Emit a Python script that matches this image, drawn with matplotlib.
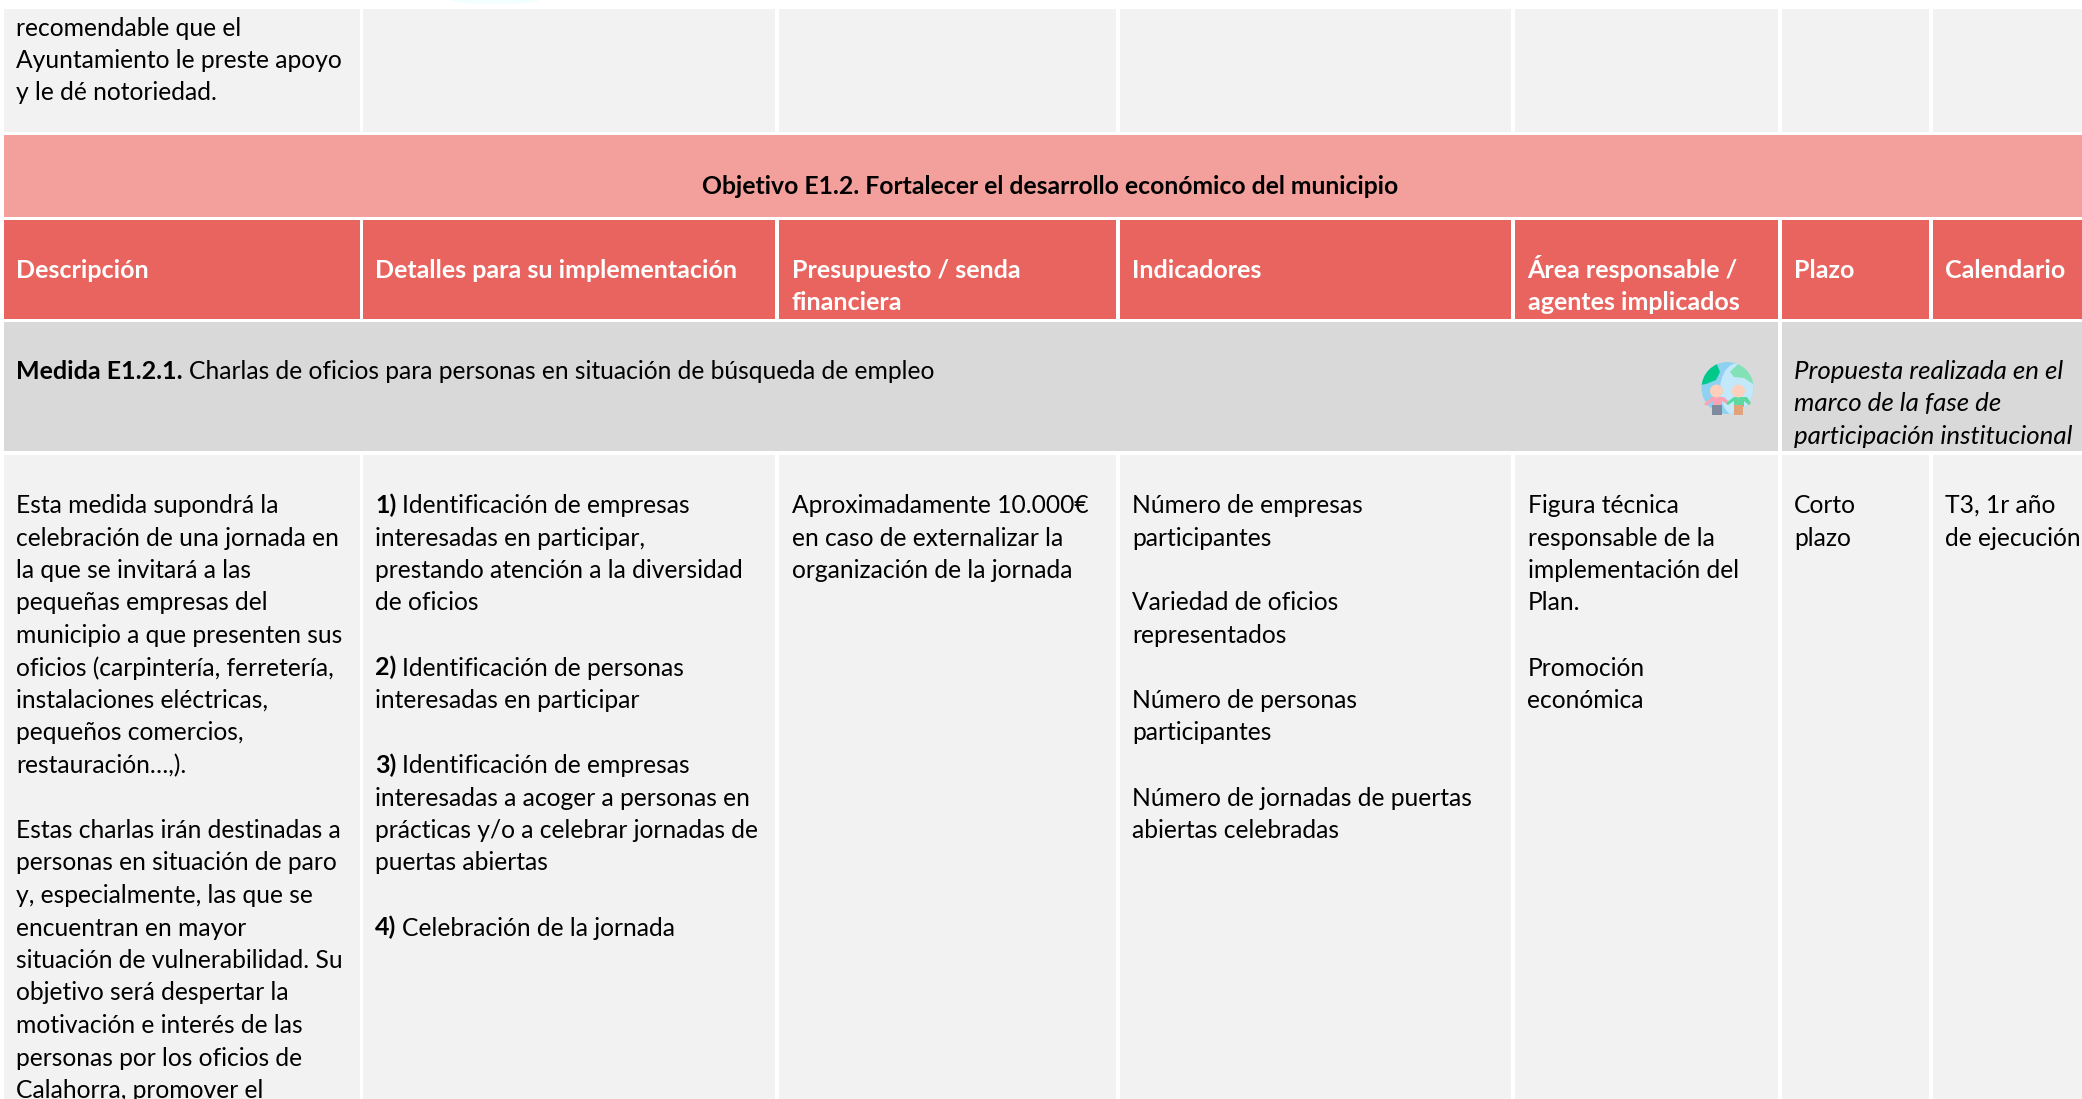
import matplotlib
matplotlib.use('Agg')
import matplotlib.pyplot as plt
from matplotlib.patches import Rectangle, Circle, Ellipse, Polygon

# column and row edges, in pixels of the page
col_left = [4, 362.5, 779, 1120, 1515, 1782, 1933]
col_right = [359.5, 775, 1116, 1511, 1778, 1929, 2082]
text_x = [16.5, 375, 791.5, 1132, 1527.5, 1794, 1945]

top_row = (9, 132)
obj_row = (135, 217)
head_row = (220, 319)
gray_row = (322, 451)
body_row = (455, 1099)

C_CELL = '#f2f2f2'
C_OBJ = '#f3a09c'
C_HEAD = '#e9645e'
C_GRAY = '#d9d9d9'

top_lines = ['recomendable que el', 'Ayuntamiento le preste apoyo', 'y le dé notoriedad.']
objetivo = 'Objetivo E1.2. Fortalecer el desarrollo económico del municipio'
headers = [
    ['Descripción'],
    ['Detalles para su implementación'],
    ['Presupuesto / senda', 'financiera'],
    ['Indicadores'],
    ['Área responsable /', 'agentes implicados'],
    ['Plazo'],
    ['Calendario'],
]
medida_bold = 'Medida E1.2.1.'
medida_text = 'Charlas de oficios para personas en situación de búsqueda de empleo'
propuesta = ['Propuesta realizada en el', 'marco de la fase de', 'participación institucional']

descripcion = [
    'Esta medida supondrá la', 'celebración de una jornada en', 'la que se invitará a las',
    'pequeñas empresas del', 'municipio a que presenten sus', 'oficios (carpintería, ferretería,',
    'instalaciones eléctricas,', 'pequeños comercios,', 'restauración…,).', '',
    'Estas charlas irán destinadas a', 'personas en situación de paro', 'y, especialmente, las que se',
    'encuentran en mayor', 'situación de vulnerabilidad. Su', 'objetivo será despertar la',
    'motivación e interés de las', 'personas por los oficios de', 'Calahorra, promover el',
]
detalles = [
    '1) Identificación de empresas', 'interesadas en participar,', 'prestando atención a la diversidad',
    'de oficios', '', '2) Identificación de personas', 'interesadas en participar', '',
    '3) Identificación de empresas', 'interesadas a acoger a personas en',
    'prácticas y/o a celebrar jornadas de', 'puertas abiertas', '', '4) Celebración de la jornada',
]
presupuesto = ['Aproximadamente 10.000€', 'en caso de externalizar la', 'organización de la jornada']
indicadores = [
    'Número de empresas', 'participantes', '', 'Variedad de oficios', 'representados', '',
    'Número de personas', 'participantes', '', 'Número de jornadas de puertas', 'abiertas celebradas',
]
area = [
    'Figura técnica', 'responsable de la', 'implementación del', 'Plan.', '',
    'Promoción', 'económica',
]
plazo = ['Corto', 'plazo']
calendario = ['T3, 1r año', 'de ejecución']
body_cols = [descripcion, detalles, presupuesto, indicadores, area, plazo, calendario]

plt.rcParams['font.family'] = ['Lato', 'DejaVu Sans']
FS = 17.7
FS_BOLD = 18.0
FS_OBJ = 17.85
FS_ITALIC = 18.65
PITCH = 32.5

fig = plt.figure(figsize=(20.82, 10.99), dpi=100)
ax = fig.add_axes([0, 0, 1, 1])
ax.set_xlim(0, 2082)
ax.set_ylim(1099, 0)
ax.axis('off')


def box(x0, x1, row, color):
    ax.add_patch(Rectangle((x0, row[0]), x1 - x0, row[1] - row[0], fc=color, ec='none'))


def bold_then_regular(x, y, bold, rest):
    t = ax.text(x, y, bold, fontsize=FS_BOLD, fontweight='bold', va='baseline', color='black')
    r = fig.canvas.get_renderer()
    w = t.get_window_extent(r).width
    ax.text(x + w + 6, y, rest, fontsize=FS, va='baseline', color='black')


# faint trace at the very top of the page
ax.add_patch(Ellipse((495, 0), 90, 8, fc='#f3fefe', ec='none'))

for l, r in zip(col_left, col_right):
    box(l, r, top_row, C_CELL)
    box(l, r, head_row, C_HEAD)
    box(l, r, body_row, C_CELL)
box(4, 2082, obj_row, C_OBJ)
box(4, 1778, gray_row, C_GRAY)
box(1782, 2082, gray_row, C_GRAY)

for i, line in enumerate(top_lines):
    ax.text(text_x[0], 35.5 + i * PITCH, line, fontsize=FS, va='baseline')

ax.text(1050.5, 193.5, objetivo, fontsize=FS_OBJ, fontweight='bold', ha='center', va='baseline')

for x, lines in zip(text_x, headers):
    for i, line in enumerate(lines):
        ax.text(x, 278 + i * PITCH, line, fontsize=FS_BOLD, fontweight='bold', color='white', va='baseline')

bold_then_regular(text_x[0], 379, medida_bold, medida_text)
for i, line in enumerate(propuesta):
    ax.text(text_x[5], 379 + i * PITCH, line, fontsize=FS_ITALIC, style='italic', va='baseline')

for x, lines in zip(text_x, body_cols):
    for i, line in enumerate(lines):
        y = 513 + i * PITCH
        if line[1:2] == ')':
            bold_then_regular(x, y, line[:2], line[3:])
        elif line:
            ax.text(x, y, line, fontsize=FS, va='baseline', clip_on=True)

# little icon in the grey band: globe and two figures
globe = Circle((1727.5, 388), 26, fc='#8fd1f0', ec='none')
ax.add_patch(globe)
light = Ellipse((1738, 390), 36, 54, fc='#c2e8fa', ec='none')
ax.add_patch(light)
light.set_clip_path(globe)
land1 = Polygon([[1700, 385], [1704, 370], [1716, 362], [1720, 372], [1716, 380], [1706, 384]],
                fc='#00c98a', ec='none')
ax.add_patch(land1)
land1.set_clip_path(globe)
land2 = Polygon([[1730, 372], [1738, 364], [1745, 360], [1756, 372], [1756, 386], [1744, 378], [1734, 377]],
                fc='#83e2b5', ec='none')
ax.add_patch(land2)
land2.set_clip_path(globe)
# left figure
ax.add_patch(Polygon([[1704, 404], [1712, 397], [1724, 397], [1730, 403], [1728, 405], [1722, 401],
                      [1722, 407], [1713, 407], [1713, 401], [1706, 406]], fc='#fba3b5', ec='none'))
ax.add_patch(Rectangle((1712, 405), 10, 10, fc='#7f8a9e', ec='none'))
ax.add_patch(Circle((1716.5, 391), 6.5, fc='#fcd0bd', ec='none'))
# right figure
ax.add_patch(Polygon([[1726, 403], [1734, 397], [1747, 397], [1751, 403], [1749, 405], [1744, 401],
                      [1744, 407], [1734, 407], [1734, 401], [1728, 405]], fc='#5cd8a0', ec='none'))
ax.add_patch(Rectangle((1734, 405), 9, 10, fc='#e2a27a', ec='none'))
ax.add_patch(Circle((1738.5, 391), 6.5, fc='#fcd0bd', ec='none'))

fig.savefig('out.png', dpi=100, facecolor='white')
